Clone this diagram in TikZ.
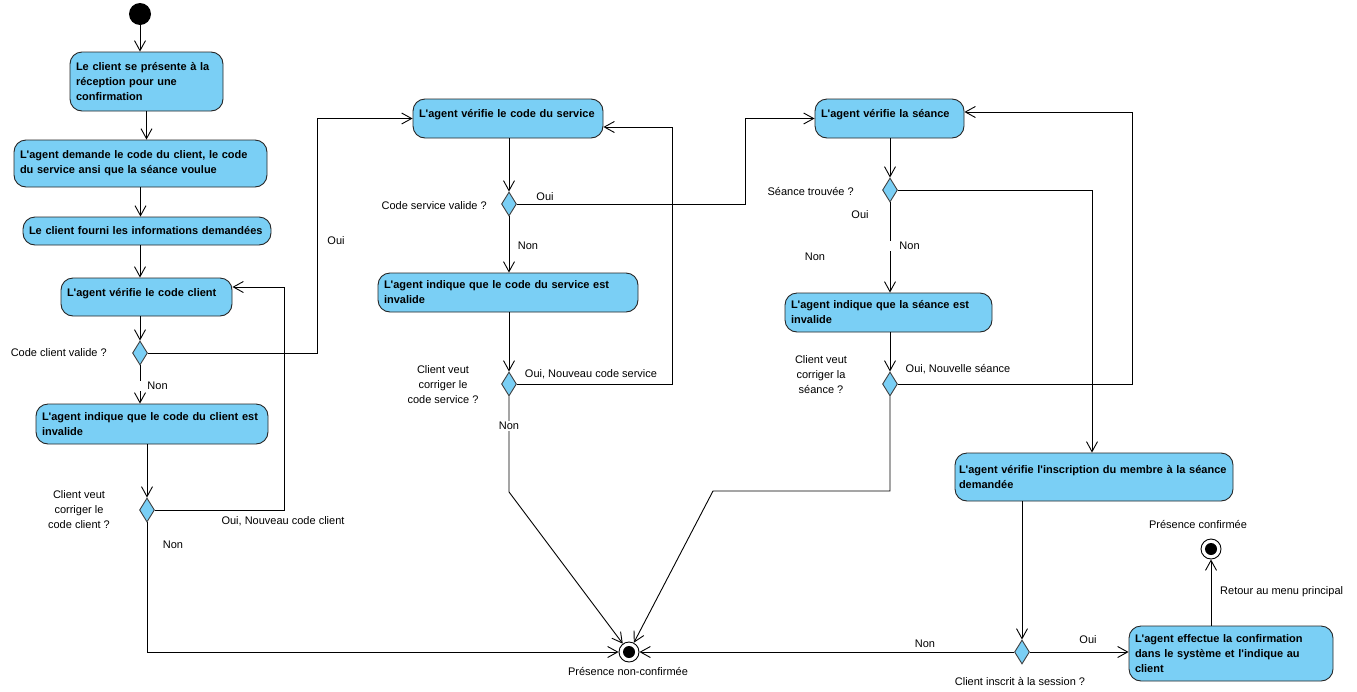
\documentclass[tikz,border=0pt]{standalone}
\usepackage{fontspec}
\setmainfont{Liberation Sans}[Ligatures=TeXOff]
\usetikzlibrary{shapes.geometric,arrows.meta}

\definecolor{actblue}{RGB}{122,207,245}

\tikzset{
  etat/.style={draw=black!85, fill=actblue, rounded corners=12pt, line width=0.9pt,
    font=\fontsize{11}{15}\selectfont\bfseries, align=left, inner xsep=6pt, inner ysep=0pt},
  haut/.style={text depth=10pt},
  decision/.style={diamond, draw=black!75, fill=actblue, line width=0.9pt,
    minimum width=15pt, minimum height=24pt, inner sep=0pt},
  debut/.style={circle, fill=black, minimum size=22pt, inner sep=0pt},
  fin/.style={circle, draw=black, fill=white, line width=0.9pt, minimum size=20pt, inner sep=0pt,
    path picture={\fill[black] (path picture bounding box.center) circle (6pt);}},
  lbl/.style={font=\fontsize{11}{15}\selectfont, inner sep=1pt, align=center},
  fleche/.style={draw, line width=0.9pt, -{Straight Barb[length=10pt,width=11pt]}},
}

\begin{document}
\begin{tikzpicture}[x=1pt, y=-1pt]
\useasboundingbox (0,0) rectangle (1357,691);

% etats
\node[debut] (start) at (140,14) {};
\node[etat, text width=141pt, minimum height=59pt] (presente) at (146.5,81.5)
  {Le client se présente à la\\réception pour une\\confirmation};
\node[etat, text width=241pt, minimum height=47pt] (demande) at (140.5,163.5)
  {L'agent demande le code du client, le code\\du service ansi que la séance voulue};
\node[etat, text width=236pt, minimum height=28pt] (fourni) at (147,231)
  {Le client fourni les informations demandées};
\node[etat, haut, text width=159pt, minimum height=38pt] (verifclient) at (146.5,297)
  {L'agent vérifie le code client};
\node[etat, text width=220pt, minimum height=40pt] (invclient) at (152,424)
  {L'agent indique que le code du client est\\invalide};
\node[etat, haut, text width=178pt, minimum height=39pt] (verifservice) at (508,118.5)
  {L'agent vérifie le code du service};
\node[etat, text width=248pt, minimum height=39pt] (invservice) at (508,292.5)
  {L'agent indique que le code du service est\\invalide};
\node[etat, haut, text width=137pt, minimum height=39pt] (verifseance) at (889.5,118.5)
  {L'agent vérifie la séance};
\node[etat, text width=195pt, minimum height=39pt] (invseance) at (888.5,312.5)
  {L'agent indique que la séance est\\invalide};
\node[etat, inner xsep=4pt, text width=270pt, minimum height=48pt] (inscription) at (1094,477)
  {L'agent vérifie l'inscription du membre à la séance\\demandée};
\node[etat, text width=192pt, minimum height=55pt] (confirmation) at (1231,653.5)
  {L'agent effectue la confirmation\\dans le système et l'indique au\\client};

% decisions
\node[decision] (dclient) at (140,353) {};
\node[decision] (dcorrclient) at (147,510) {};
\node[decision] (dservice) at (509,204) {};
\node[decision] (dcorrservice) at (509,384) {};
\node[decision] (dseance) at (890,190) {};
\node[decision] (dcorrseance) at (890,384) {};
\node[decision] (dinscrit) at (1022,652) {};

% fins
\node[fin] (finnon) at (629,652) {};
\node[fin] (finok) at (1211,549) {};

% flot client
\draw[fleche] (start) -- (start |- presente.north);
\draw[fleche] (presente.south) -- (presente.south |- demande.north);
\draw[fleche] (demande.south) -- (demande.south |- fourni.north);
\draw[fleche] (fourni.south -| start) -- (start |- verifclient.north);
\draw[fleche] (verifclient.south -| dclient) -- (dclient.north);
\draw[fleche] (dclient.east) -- (317,353) |- (verifservice.west);
\draw[fleche] (dclient.south) -- node[lbl, fill=white, anchor=west, pos=0.54, xshift=-1pt] {\hspace*{7pt}Non} (dclient.south |- invclient.north);
\draw[fleche] (invclient.south -| dcorrclient) -- (dcorrclient.north);
\draw[fleche] (dcorrclient.east) -- (284,510) -- (284,287) -- (verifclient.east |- 284,287);
\draw[fleche] (dcorrclient.south) |- (finnon.west);

% flot service
\draw[fleche] (verifservice.south -| dservice) -- (dservice.north);
\draw[fleche] (dservice.east) -- (745,204) |- (verifseance.west);
\draw[fleche] (dservice.south) -- (dservice.south |- invservice.north);
\draw[fleche] (invservice.south -| dcorrservice) -- (dcorrservice.north);
\draw[fleche] (dcorrservice.east) -- (672,384) -- (672,127) -- (verifservice.east |- 672,127);
\draw[fleche] (dcorrservice.south) -- node[lbl, fill=white, pos=0.31] {Non} (509,492) -- (finnon);

% flot seance
\draw[fleche] (verifseance.south -| dseance) -- (dseance.north);
\draw[fleche] (dseance.east) -- (1092,190) -- (1092,0 |- inscription.north);
\draw[fleche] (dseance.south) -- node[lbl, fill=white, anchor=west, pos=0.48, xshift=-1pt] {\hspace*{9pt}Non} (dseance.south |- invseance.north);
\draw[fleche] (invseance.south -| dcorrseance) -- (dcorrseance.north);
\draw[fleche] (dcorrseance.east) -- (1132,384) -- (1132,112) -- (verifseance.east |- 1132,112);
\draw[fleche] (dcorrseance.south) -- (890,491) -- (713,491) -- (finnon);
\draw[fleche] (inscription.south -| dinscrit) -- (dinscrit.north);
\draw[fleche] (dinscrit.west) -- (finnon.east);
\draw[fleche] (dinscrit.east) -- (dinscrit.east -| confirmation.west);
\draw[fleche] (confirmation.north -| finok) -- (finok.south);

% textes
\node[lbl, anchor=east] at (108,353) {Code client valide ?};
\node[lbl] at (336,241) {Oui};
\node[lbl] at (79,510) {Client veut\\corriger le\\code client ?};
\node[lbl] at (283,521) {Oui, Nouveau code client};
\node[lbl] at (173,545) {Non};
\node[lbl, anchor=east] at (488,206) {Code service valide ?};
\node[lbl] at (545,197) {Oui};
\node[lbl] at (528,246) {Non};
\node[lbl] at (443,385) {Client veut\\corriger le\\code service ?};
\node[lbl] at (591,374) {Oui, Nouveau code service};
\node[lbl, anchor=east] at (855,191) {Séance trouvée ?};
\node[lbl] at (860,215) {Oui};
\node[lbl] at (815,257) {Non};
\node[lbl] at (821,375) {Client veut\\corriger la\\séance ?};
\node[lbl] at (958,369) {Oui, Nouvelle séance};
\node[lbl] at (925,644) {Non};
\node[lbl] at (1088,640) {Oui};
\node[lbl] at (1020,681) {Client inscrit à la session ?};
\node[lbl] at (628,671) {Présence non-confirmée};
\node[lbl] at (1198,524) {Présence confirmée};
\node[lbl, anchor=west] at (1219,592) {Retour au menu principal};
\end{tikzpicture}
\end{document}
